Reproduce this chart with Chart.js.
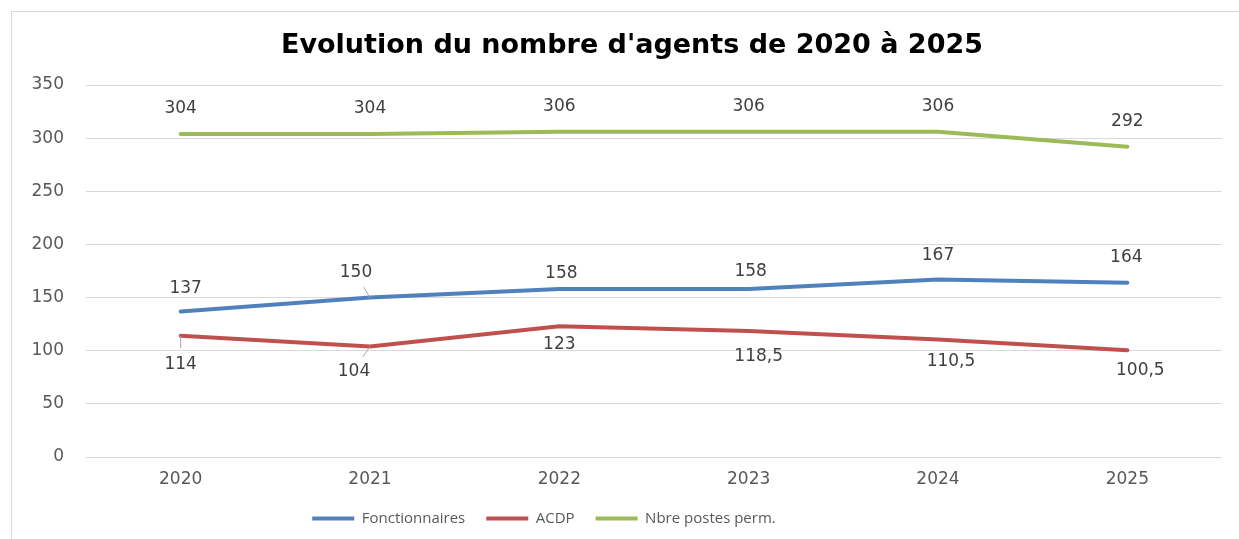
<!DOCTYPE html>
<html>
<head>
<meta charset="utf-8">
<script src="https://cdn.jsdelivr.net/npm/chart.js@4.4.0/dist/chart.umd.min.js"></script>
<style>
    html, body { margin: 0; padding: 0; background: #fff; }
    #wrap { width: 1239px; height: 539px; position: relative; }
</style>
</head>
<body>
<div id="wrap"><canvas id="chart"></canvas></div>
<script>
// Données du graphique
const years = ['2020', '2021', '2022', '2023', '2024', '2025'];
const fonctionnaires = [137, 150, 158, 158, 167, 164];
const acdp = [114, 104, 123, 118.5, 110.5, 100.5];
const postesPerm = [304, 304, 306, 306, 306, 292];
const yMin = 0, yMax = 350, yStep = 50;

// Décalage des étiquettes (dx, dy) et traits de rappel
const labelShift = [
    [[5, -23], [-14, -25], [2, -15], [2, -17], [0, -24], [-1, -25]],
    [[0, 29], [-16, 25], [0, 18], [10, 26], [13, 22], [13, 20]],
    [[0, -25], [0, -25], [0, -25], [0, -25], [0, -25], [0, -25]]
];
const leaders = [
    [false, true, false, false, false, false],
    [true, true, false, false, false, false],
    [false, false, false, false, false, false]
];

const frame = {
    id: 'frame',
    beforeDraw(chart) {
        const ctx = chart.ctx;
        ctx.save();
        ctx.fillStyle = '#fff';
        ctx.fillRect(0, 0, chart.width, chart.height);
        ctx.strokeStyle = '#d9d9d9';
        ctx.lineWidth = 1;
        ctx.beginPath();
        ctx.moveTo(11, 11.5);
        ctx.lineTo(chart.width, 11.5);
        ctx.moveTo(11.5, 11);
        ctx.lineTo(11.5, chart.height);
        ctx.stroke();
        ctx.restore();
    }
};

// Titre un peu à droite, légende un peu à gauche, comme dans l'original
const shiftBoxes = {
    id: 'shiftBoxes',
    afterLayout(chart) {
        chart.titleBlock.left += 21;
        chart.titleBlock.right += 21;
        chart.legend.left -= 67;
        chart.legend.right -= 67;
    }
};

const dataLabels = {
    id: 'dataLabels',
    afterDatasetsDraw(chart) {
        const ctx = chart.ctx;
        ctx.save();
        ctx.font = '17px "DejaVu Sans"';
        ctx.textAlign = 'center';
        ctx.textBaseline = 'middle';
        chart.data.datasets.forEach((ds, i) => {
            chart.getDatasetMeta(i).data.forEach((pt, j) => {
                const [dx, dy] = labelShift[i][j];
                if (leaders[i][j]) {
                    ctx.strokeStyle = '#a6a6a6';
                    ctx.lineWidth = 1;
                    ctx.beginPath();
                    ctx.moveTo(pt.x, pt.y);
                    ctx.lineTo(pt.x + dx * 0.45, pt.y + dy * 0.42);
                    ctx.stroke();
                }
                ctx.fillStyle = '#404040';
                ctx.fillText(String(ds.data[j]).replace('.', ','), pt.x + dx, pt.y + dy);
            });
        });
        ctx.restore();
    }
};

function serie(label, data, color) {
    return {
        label: label,
        data: data,
        borderColor: color,
        backgroundColor: color,
        borderWidth: 4,
        borderCapStyle: 'round',
        pointRadius: 0,
        tension: 0,
        fill: false
    };
}

new Chart(document.getElementById('chart'), {
    type: 'line',
    data: {
        labels: years,
        datasets: [
            serie('Fonctionnaires', fonctionnaires, '#4f81bd'),
            serie('ACDP', acdp, '#c0504d'),
            serie('Nbre postes perm.', postesPerm, '#9bbb59')
        ]
    },
    options: {
        responsive: true,
        maintainAspectRatio: false,
        animation: false,
        layout: { padding: { left: 0, right: 17, top: 0, bottom: 3 } },
        plugins: {
            title: {
                display: true,
                text: "Evolution du nombre d'agents de 2020 à 2025",
                color: '#000',
                font: { family: 'DejaVu Sans', size: 27, weight: 'bold' },
                padding: { top: 30, bottom: 22.6 }
            },
            legend: {
                position: 'bottom',
                labels: {
                    usePointStyle: true,
                    pointStyle: 'line',
                    pointStyleWidth: 42,
                    boxHeight: 4,
                    color: '#595959',
                    font: { family: 'Open Sans', size: 15 },
                    padding: 21
                }
            },
            tooltip: { enabled: false }
        },
        scales: {
            x: {
                offset: true,
                afterFit(scale) { scale.height = 33; },
                grid: { display: false, drawTicks: false },
                border: { display: false },
                ticks: {
                    color: '#595959',
                    font: { family: 'DejaVu Sans', size: 17 },
                    padding: 12
                }
            },
            y: {
                min: yMin,
                max: yMax,
                afterFit(scale) { scale.width = 86; },
                grid: { color: '#d9d9d9', lineWidth: 1, drawTicks: false },
                border: { display: false },
                ticks: {
                    stepSize: yStep,
                    color: '#595959',
                    font: { family: 'DejaVu Sans', size: 17 },
                    padding: 22
                }
            }
        }
    },
    plugins: [frame, shiftBoxes, dataLabels]
});
</script>
</body>
</html>
